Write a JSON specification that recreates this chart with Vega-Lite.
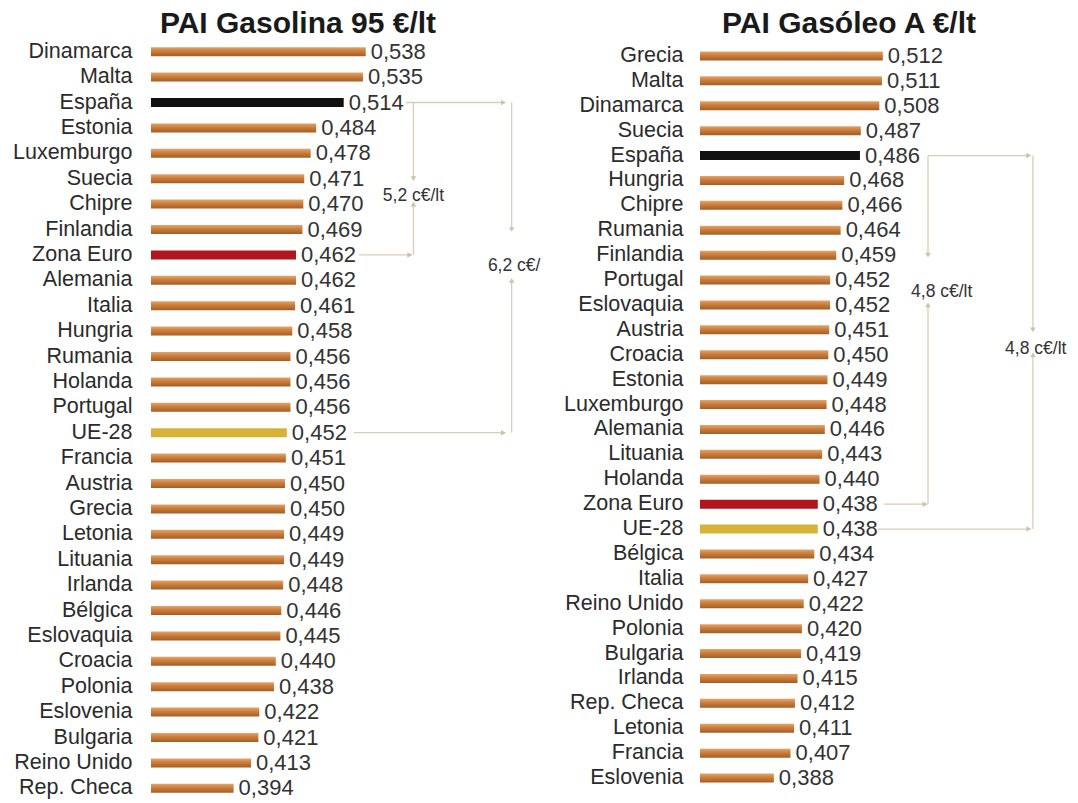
{
  "$schema": "https://vega.github.io/schema/vega-lite/v6.json",
  "padding": {"left": 12, "top": 9, "right": 5, "bottom": 0},
  "background": "white",
  "spacing": 22,
  "resolve": {"scale": {"x": "independent", "y": "independent", "color": "independent", "shape": "independent"}},
  "config": {
    "view": {"stroke": null},
    "font": "Liberation Sans",
    "locale": {"number": {"decimal": ",", "thousands": ".", "grouping": [3], "currency": ["", " €"]}},
    "title": {"fontSize": 30, "fontWeight": "bold", "font": "Liberation Sans", "color": "#1a1a1a", "offset": 0, "anchor": "middle", "dy": 4}
  },
  "datasets": {
    "gas": [
      {"pais": "Dinamarca", "valor": 0.538, "tipo": "pais"},
      {"pais": "Malta", "valor": 0.535, "tipo": "pais"},
      {"pais": "España", "valor": 0.514, "tipo": "espana"},
      {"pais": "Estonia", "valor": 0.484, "tipo": "pais"},
      {"pais": "Luxemburgo", "valor": 0.478, "tipo": "pais"},
      {"pais": "Suecia", "valor": 0.471, "tipo": "pais"},
      {"pais": "Chipre", "valor": 0.470, "tipo": "pais"},
      {"pais": "Finlandia", "valor": 0.469, "tipo": "pais"},
      {"pais": "Zona Euro", "valor": 0.462, "tipo": "zona"},
      {"pais": "Alemania", "valor": 0.462, "tipo": "pais"},
      {"pais": "Italia", "valor": 0.461, "tipo": "pais"},
      {"pais": "Hungria", "valor": 0.458, "tipo": "pais"},
      {"pais": "Rumania", "valor": 0.456, "tipo": "pais"},
      {"pais": "Holanda", "valor": 0.456, "tipo": "pais"},
      {"pais": "Portugal", "valor": 0.456, "tipo": "pais"},
      {"pais": "UE-28", "valor": 0.452, "tipo": "ue"},
      {"pais": "Francia", "valor": 0.451, "tipo": "pais"},
      {"pais": "Austria", "valor": 0.450, "tipo": "pais"},
      {"pais": "Grecia", "valor": 0.450, "tipo": "pais"},
      {"pais": "Letonia", "valor": 0.449, "tipo": "pais"},
      {"pais": "Lituania", "valor": 0.449, "tipo": "pais"},
      {"pais": "Irlanda", "valor": 0.448, "tipo": "pais"},
      {"pais": "Bélgica", "valor": 0.446, "tipo": "pais"},
      {"pais": "Eslovaquia", "valor": 0.445, "tipo": "pais"},
      {"pais": "Croacia", "valor": 0.440, "tipo": "pais"},
      {"pais": "Polonia", "valor": 0.438, "tipo": "pais"},
      {"pais": "Eslovenia", "valor": 0.422, "tipo": "pais"},
      {"pais": "Bulgaria", "valor": 0.421, "tipo": "pais"},
      {"pais": "Reino Unido", "valor": 0.413, "tipo": "pais"},
      {"pais": "Rep. Checa", "valor": 0.394, "tipo": "pais"}
    ],
    "dsl": [
      {"pais": "Grecia", "valor": 0.512, "tipo": "pais"},
      {"pais": "Malta", "valor": 0.511, "tipo": "pais"},
      {"pais": "Dinamarca", "valor": 0.508, "tipo": "pais"},
      {"pais": "Suecia", "valor": 0.487, "tipo": "pais"},
      {"pais": "España", "valor": 0.486, "tipo": "espana"},
      {"pais": "Hungria", "valor": 0.468, "tipo": "pais"},
      {"pais": "Chipre", "valor": 0.466, "tipo": "pais"},
      {"pais": "Rumania", "valor": 0.464, "tipo": "pais"},
      {"pais": "Finlandia", "valor": 0.459, "tipo": "pais"},
      {"pais": "Portugal", "valor": 0.452, "tipo": "pais"},
      {"pais": "Eslovaquia", "valor": 0.452, "tipo": "pais"},
      {"pais": "Austria", "valor": 0.451, "tipo": "pais"},
      {"pais": "Croacia", "valor": 0.450, "tipo": "pais"},
      {"pais": "Estonia", "valor": 0.449, "tipo": "pais"},
      {"pais": "Luxemburgo", "valor": 0.448, "tipo": "pais"},
      {"pais": "Alemania", "valor": 0.446, "tipo": "pais"},
      {"pais": "Lituania", "valor": 0.443, "tipo": "pais"},
      {"pais": "Holanda", "valor": 0.440, "tipo": "pais"},
      {"pais": "Zona Euro", "valor": 0.438, "tipo": "zona"},
      {"pais": "UE-28", "valor": 0.438, "tipo": "ue"},
      {"pais": "Bélgica", "valor": 0.434, "tipo": "pais"},
      {"pais": "Italia", "valor": 0.427, "tipo": "pais"},
      {"pais": "Reino Unido", "valor": 0.422, "tipo": "pais"},
      {"pais": "Polonia", "valor": 0.420, "tipo": "pais"},
      {"pais": "Bulgaria", "valor": 0.419, "tipo": "pais"},
      {"pais": "Irlanda", "valor": 0.415, "tipo": "pais"},
      {"pais": "Rep. Checa", "valor": 0.412, "tipo": "pais"},
      {"pais": "Letonia", "valor": 0.411, "tipo": "pais"},
      {"pais": "Francia", "valor": 0.407, "tipo": "pais"},
      {"pais": "Eslovenia", "valor": 0.388, "tipo": "pais"}
    ],
    "gasH": [
      {"pais": "España", "x": 0.582, "x2": 0.690},
      {"pais": "Zona Euro", "x": 0.531, "x2": 0.588},
      {"pais": "UE-28", "x": 0.525, "x2": 0.690}
    ],
    "gasV": [
      {"x": 0.590, "pais": "España", "pais2": "Suecia"},
      {"x": 0.590, "pais": "Chipre", "pais2": "Zona Euro"},
      {"x": 0.697, "pais": "España", "pais2": "Finlandia"},
      {"x": 0.697, "pais": "Alemania", "pais2": "UE-28"}
    ],
    "gasA": [
      {"x": 0.688, "pais": "España", "dir": "right"},
      {"x": 0.586, "pais": "Zona Euro", "dir": "right"},
      {"x": 0.688, "pais": "UE-28", "dir": "right"},
      {"x": 0.590, "pais": "Suecia", "dir": "down"},
      {"x": 0.590, "pais": "Chipre", "dir": "up"},
      {"x": 0.697, "pais": "Finlandia", "dir": "down"},
      {"x": 0.697, "pais": "Alemania", "dir": "up"}
    ],
    "gasT": [
      {"x": 0.590, "pais": "Chipre", "label": "5,2 c€/lt"},
      {"x": 0.7045, "pais": "Alemania", "label": "6,2 c€/lt"}
    ],
    "dslH": [
      {"pais": "España", "x": 0.5634, "x2": 0.680},
      {"pais": "Zona Euro", "x": 0.5133, "x2": 0.562},
      {"pais": "UE-28", "x": 0.5065, "x2": 0.680}
    ],
    "dslV": [
      {"x": 0.5634, "pais": "España", "pais2": "Finlandia"},
      {"x": 0.5634, "pais": "Eslovaquia", "pais2": "Zona Euro"},
      {"x": 0.6828, "pais": "España", "pais2": "Austria"},
      {"x": 0.6828, "pais": "Croacia", "pais2": "UE-28"}
    ],
    "dslA": [
      {"x": 0.678, "pais": "España", "dir": "right"},
      {"x": 0.560, "pais": "Zona Euro", "dir": "right"},
      {"x": 0.678, "pais": "UE-28", "dir": "right"},
      {"x": 0.5634, "pais": "Finlandia", "dir": "down"},
      {"x": 0.5634, "pais": "Eslovaquia", "dir": "up"},
      {"x": 0.6828, "pais": "Austria", "dir": "down"},
      {"x": 0.6828, "pais": "Croacia", "dir": "up"}
    ],
    "dslT": [
      {"x": 0.579, "pais": "Eslovaquia", "label": "4,8 c€/lt"},
      {"x": 0.686, "pais": "Croacia", "label": "4,8 c€/lt"}
    ]
  },
  "hconcat": [
    {
      "width": 390,
      "height": 762,
      "title": {"text": "PAI Gasolina 95 €/lt", "dx": -48},
      "encoding": {
        "y": {"field": "pais", "type": "nominal", "title": null,
          "scale": {"domain": ["Dinamarca","Malta","España","Estonia","Luxemburgo","Suecia","Chipre","Finlandia","Zona Euro","Alemania","Italia","Hungria","Rumania","Holanda","Portugal","UE-28","Francia","Austria","Grecia","Letonia","Lituania","Irlanda","Bélgica","Eslovaquia","Croacia","Polonia","Eslovenia","Bulgaria","Reino Unido","Rep. Checa"], "paddingInner": 0, "paddingOuter": 0},
          "axis": {"domain": false, "ticks": false, "grid": false, "labelPadding": 19, "labelFontSize": 21.5, "labelFont": "Liberation Sans", "labelColor": "#2b2b2b", "labelLimit": 300}}
      },
      "layer": [
        {
          "data": {"name": "gas"},
          "transform": [{"filter": "datum.tipo == 'pais'"}],
          "mark": {"type": "bar", "size": 9, "color": {"gradient": "linear", "x1": 0, "y1": 0, "x2": 0, "y2": 1, "stops": [{"offset": 0, "color": "#e4a568"}, {"offset": 0.4, "color": "#cd803f"}, {"offset": 1, "color": "#a55d24"}]}},
          "encoding": {
            "x": {"field": "valor", "type": "quantitative", "scale": {"domain": [0.304, 0.729], "zero": false, "nice": false}, "axis": null},
            "x2": {"datum": 0.304}
          }
        },
        {
          "data": {"name": "gas"},
          "transform": [{"filter": "datum.tipo != 'pais'"}],
          "mark": {"type": "bar", "size": 9},
          "encoding": {
            "x": {"field": "valor", "type": "quantitative"},
            "x2": {"datum": 0.304},
            "color": {"field": "tipo", "type": "nominal", "scale": {"domain": ["espana", "zona", "ue"], "range": ["#111111", "#b0161c", "#d8b236"]}, "legend": null}
          }
        },
        {
          "data": {"name": "gas"},
          "mark": {"type": "text", "align": "left", "baseline": "middle", "dx": 5, "fontSize": 22, "font": "Liberation Sans", "color": "#333333"},
          "encoding": {
            "x": {"field": "valor", "type": "quantitative"},
            "text": {"field": "valor", "type": "quantitative", "format": ".3f"}
          }
        },
        {
          "data": {"name": "gasH"},
          "mark": {"type": "rule", "color": "#d9ccb8", "strokeWidth": 1.3},
          "encoding": {
            "x": {"field": "x", "type": "quantitative"},
            "x2": {"field": "x2"}
          }
        },
        {
          "data": {"name": "gasV"},
          "mark": {"type": "rule", "color": "#d9ccb8", "strokeWidth": 1.3},
          "encoding": {
            "x": {"field": "x", "type": "quantitative"},
            "y2": {"field": "pais2"}
          }
        },
        {
          "data": {"name": "gasA"},
          "mark": {"type": "point", "filled": true, "size": 30, "color": "#cfc0a8", "opacity": 1},
          "encoding": {
            "x": {"field": "x", "type": "quantitative"},
            "shape": {"field": "dir", "type": "nominal", "scale": {"domain": ["down", "up", "right"], "range": ["triangle-down", "triangle-up", "triangle-right"]}, "legend": null}
          }
        },
        {
          "data": {"name": "gasT"},
          "transform": [{"filter": "datum.pais == 'Chipre'"}],
          "mark": {"type": "text", "align": "center", "baseline": "middle", "dy": -8, "fontSize": 17.5, "font": "Liberation Sans", "color": "#333333", "clip": true},
          "encoding": {
            "x": {"field": "x", "type": "quantitative"},
            "text": {"field": "label"}
          }
        },
        {
          "data": {"name": "gasT"},
          "transform": [{"filter": "datum.pais == 'Alemania'"}],
          "mark": {"type": "text", "align": "center", "baseline": "middle", "dy": -14, "fontSize": 17.5, "font": "Liberation Sans", "color": "#333333", "clip": true},
          "encoding": {
            "x": {"field": "x", "type": "quantitative"},
            "text": {"field": "label"}
          }
        }
      ]
    },
    {
      "width": 374,
      "height": 756,
      "title": {"text": "PAI Gasóleo A €/lt", "dx": -38},
      "encoding": {
        "y": {"field": "pais", "type": "nominal", "title": null,
          "scale": {"domain": ["Grecia","Malta","Dinamarca","Suecia","España","Hungria","Chipre","Rumania","Finlandia","Portugal","Eslovaquia","Austria","Croacia","Estonia","Luxemburgo","Alemania","Lituania","Holanda","Zona Euro","UE-28","Bélgica","Italia","Reino Unido","Polonia","Bulgaria","Irlanda","Rep. Checa","Letonia","Francia","Eslovenia"], "paddingInner": 0, "paddingOuter": 0.18},
          "axis": {"domain": false, "ticks": false, "grid": false, "labelPadding": 17, "labelFontSize": 21.5, "labelFont": "Liberation Sans", "labelColor": "#2b2b2b", "labelLimit": 300}}
      },
      "layer": [
        {
          "data": {"name": "dsl"},
          "transform": [{"filter": "datum.tipo == 'pais'"}],
          "mark": {"type": "bar", "size": 9, "color": {"gradient": "linear", "x1": 0, "y1": 0, "x2": 0, "y2": 1, "stops": [{"offset": 0, "color": "#e4a568"}, {"offset": 0.4, "color": "#cd803f"}, {"offset": 1, "color": "#a55d24"}]}},
          "encoding": {
            "x": {"field": "valor", "type": "quantitative", "scale": {"domain": [0.304, 0.7295], "zero": false, "nice": false}, "axis": null},
            "x2": {"datum": 0.304}
          }
        },
        {
          "data": {"name": "dsl"},
          "transform": [{"filter": "datum.tipo != 'pais'"}],
          "mark": {"type": "bar", "size": 9},
          "encoding": {
            "x": {"field": "valor", "type": "quantitative"},
            "x2": {"datum": 0.304},
            "color": {"field": "tipo", "type": "nominal", "scale": {"domain": ["espana", "zona", "ue"], "range": ["#111111", "#b0161c", "#d8b236"]}, "legend": null}
          }
        },
        {
          "data": {"name": "dsl"},
          "mark": {"type": "text", "align": "left", "baseline": "middle", "dx": 5, "fontSize": 22, "font": "Liberation Sans", "color": "#333333"},
          "encoding": {
            "x": {"field": "valor", "type": "quantitative"},
            "text": {"field": "valor", "type": "quantitative", "format": ".3f"}
          }
        },
        {
          "data": {"name": "dslH"},
          "mark": {"type": "rule", "color": "#d9ccb8", "strokeWidth": 1.3},
          "encoding": {
            "x": {"field": "x", "type": "quantitative"},
            "x2": {"field": "x2"}
          }
        },
        {
          "data": {"name": "dslV"},
          "mark": {"type": "rule", "color": "#d9ccb8", "strokeWidth": 1.3},
          "encoding": {
            "x": {"field": "x", "type": "quantitative"},
            "y2": {"field": "pais2"}
          }
        },
        {
          "data": {"name": "dslA"},
          "mark": {"type": "point", "filled": true, "size": 30, "color": "#cfc0a8", "opacity": 1},
          "encoding": {
            "x": {"field": "x", "type": "quantitative"},
            "shape": {"field": "dir", "type": "nominal", "scale": {"domain": ["down", "up", "right"], "range": ["triangle-down", "triangle-up", "triangle-right"]}, "legend": null}
          }
        },
        {
          "data": {"name": "dslT"},
          "transform": [{"filter": "datum.pais == 'Eslovaquia'"}],
          "mark": {"type": "text", "align": "center", "baseline": "middle", "dy": -13, "fontSize": 17.5, "font": "Liberation Sans", "color": "#333333", "clip": true},
          "encoding": {
            "x": {"field": "x", "type": "quantitative"},
            "text": {"field": "label"}
          }
        },
        {
          "data": {"name": "dslT"},
          "transform": [{"filter": "datum.pais == 'Croacia'"}],
          "mark": {"type": "text", "align": "center", "baseline": "middle", "dy": -6, "fontSize": 17.5, "font": "Liberation Sans", "color": "#333333", "clip": true},
          "encoding": {
            "x": {"field": "x", "type": "quantitative"},
            "text": {"field": "label"}
          }
        }
      ]
    }
  ]
}
